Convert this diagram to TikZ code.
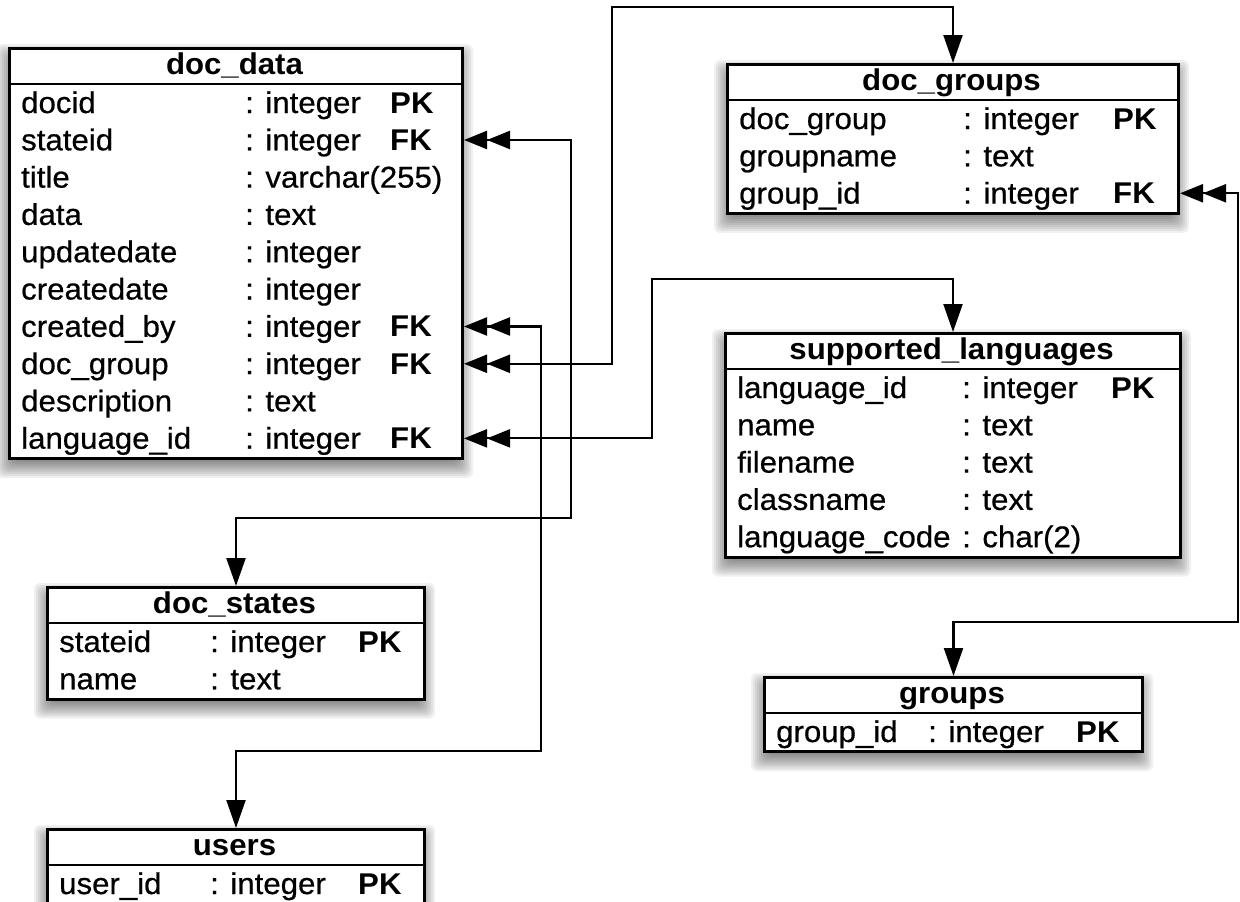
\documentclass[tikz,border=0pt]{standalone}
\usepackage{fontspec}
\setmainfont{Liberation Sans}[FakeStretch=1.04, UprightFeatures={FakeBold=0.6}]
\usetikzlibrary{arrows.meta}

\tikzset{
  tablebox/.style={draw=black, line width=3pt, fill=white, inner sep=0pt, anchor=north west},
  headrule/.style={line width=2.5pt},
  titletext/.style={font=\fontsize{30}{34}\selectfont\bfseries, anchor=base, inner sep=0pt},
  celltext/.style={font=\fontsize{30}{34}\selectfont, anchor=base west, inner sep=0pt},
  keytext/.style={font=\fontsize{30}{34}\selectfont\bfseries, anchor=base west, inner sep=0pt},
  fk/.style={line width=2.2pt,
    {Triangle[length=23pt,width=18pt,sep=0pt]Triangle[length=23pt,width=18pt,sep=0pt]}-{Triangle[length=28pt,width=19pt]}},
}

\def\nokey{-}

% #1 name, #2 left, #3 top, #4 width, #5 number of rows, #6 title
\newcommand\ertable[6]{%
  \pgfmathsetmacro\tabh{37+37.3*#5}%
  % soft drop shadow built from stacked translucent layers
  \foreach \k in {0,...,12}{%
    \pgfmathsetmacro\shexp{12-2*\k}%
    \fill[black, opacity=0.06, rounded corners=6pt]
      (#2-\shexp, #3+9-\shexp) rectangle (#2+#4+\shexp, #3+\tabh+9+\shexp);
  }%
  \node[tablebox, minimum width=#4pt, minimum height=\tabh pt] (#1) at (#2,#3) {};
  \draw[headrule] (#2,#3+37) -- (#2+#4,#3+37);
  \node[titletext] (#1-title) at (#2+#4/2, #3+27.5) {#6};
}

% #1 table, #2 left, #3 top, #4 type column x, #5 key column x, #6 rows name/type/key
\newcommand\errows[6]{%
  \foreach [count=\i from 0] \fname/\ftype/\fkey in {#6} {%
    \pgfmathsetmacro\rowy{#3+37+29+37.3*\i}%
    \node[celltext] (#1-n\i) at (#2+13,\rowy) {\fname};
    \node[celltext] (#1-t\i) at (#4,\rowy) {\ftype};
    \ifx\fkey\nokey\else
      \node[keytext] (#1-k\i) at (#5,\rowy) {\fkey};
    \fi
  }%
}

\begin{document}
\begin{tikzpicture}[x=1pt, y=-1pt]
\useasboundingbox (0,0) rectangle (1240,902);
\fill[white] (0,0) rectangle (1240,902);

% doc_data
\ertable{dd}{8}{47}{453}{10}{doc\_data}
\errows{dd}{8}{47}{245}{390}{docid/: integer/PK, stateid/: integer/FK, title/: varchar(255)/-,
  data/: text/-, updatedate/: integer/-, createdate/: integer/-, created\_by/: integer/FK,
  doc\_group/: integer/FK, description/: text/-, language\_id/: integer/FK}

% doc_groups
\ertable{dg}{726}{63}{451}{3}{doc\_groups}
\errows{dg}{726}{63}{963}{1113}{doc\_group/: integer/PK, groupname/: text/-, group\_id/: integer/FK}

% supported_languages
\ertable{sl}{724}{332}{455}{5}{supported\_languages}
\errows{sl}{724}{332}{962}{1111}{language\_id/: integer/PK, name/: text/-, filename/: text/-,
  classname/: text/-, language\_code/: char(2)/-}

% doc_states
\ertable{ds}{46}{586}{377}{2}{doc\_states}
\errows{ds}{46}{586}{210}{358}{stateid/: integer/PK, name/: text/-}

% groups
\ertable{gr}{763}{676}{378}{1}{groups}
\errows{gr}{763}{676}{928}{1076}{group\_id/: integer/PK}

% users
\ertable{us}{46}{828}{377}{1}{users}
\errows{us}{46}{828}{210}{358}{user\_id/: integer/PK}

% foreign key references
\draw[fk] (dd.east |- dd-k1) -| (571,518) -| (ds.north);
\draw[fk] (dd.east |- dd-k6) -| (541,751) -| (us.north);
\draw[fk] (dd.east |- dd-k7) -| (612,7) -| (dg.north);
\draw[fk] (dd.east |- dd-k9) -| (652,279) -| (sl.north);
\draw[fk] (dg.east |- dg-k2) -| (1238,622) -| (gr.north);
\end{tikzpicture}
\end{document}
